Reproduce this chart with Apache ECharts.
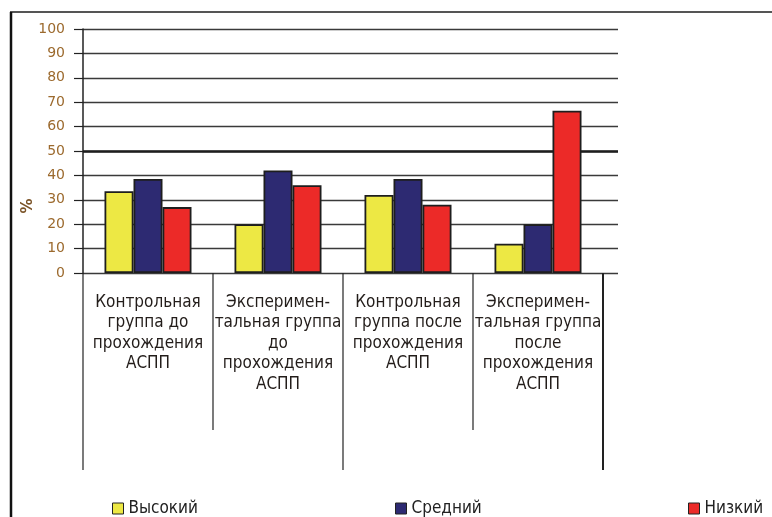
<!DOCTYPE html>
<html>
<head>
<meta charset="utf-8">
<script src="https://cdn.jsdelivr.net/npm/echarts@6/dist/echarts.min.js"></script>
<style>
html,body{margin:0;padding:0;background:#fff;}
#chart{width:772px;height:517px;}
</style>
</head>
<body>
<div id="chart"></div>
<script>
// группы
var categories=[
    "Контрольная\nгруппа до\nпрохождения\nАСПП",
    "Эксперимен-\nтальная группа\nдо\nпрохождения\nАСПП",
    "Контрольная\nгруппа после\nпрохождения\nАСПП",
    "Эксперимен-\nтальная группа\nпосле\nпрохождения\nАСПП"
];
var seriesNames=["Высокий","Средний","Низкий"];
var highVals=[33.5,20,32,12];
var midVals=[38.5,42,38.5,20];
var lowVals=[27,36,28,66.5];
var yTicks=[0,100,10];

var colors=["#ede844","#2d2a72","#ec2a28"];
var narrow='"Liberation Sans Narrow","DejaVu Sans Condensed",sans-serif';

var myChart=echarts.init(document.getElementById("chart"));

function bar(name,data,c){
    return {
        name:name,
        type:"bar",
        xAxisIndex:1,
        yAxisIndex:1,
        z:3,
        data:data,
        barWidth:29,
        barGap:"0%",
        itemStyle:{color:c,borderColor:"#1e1e1e",borderWidth:1.8}
    };
}

var series=[
    bar(seriesNames[0],highVals,colors[0]),
    bar(seriesNames[1],midVals,colors[1]),
    bar(seriesNames[2],lowVals,colors[2])
];
// жирная линия на 50 (под столбцами)
series.push({
    type:"line",xAxisIndex:0,yAxisIndex:0,data:[],z:1,
    markLine:{silent:true,symbol:"none",label:{show:false},z:1,
        lineStyle:{color:"#1e1e1e",width:2.6,type:"solid"},
        data:[{yAxis:50}]}
});

var option={
    animation:false,
    grid:[
        {left:83,top:29,width:535,height:244},
        {left:83,top:29,width:520,height:244}
    ],
    xAxis:[
        {type:"value",gridIndex:0,show:false,min:0,max:1},
        {
            type:"category",gridIndex:1,data:categories,
            axisLine:{show:false},
            axisTick:{show:false},
            axisLabel:{interval:0,margin:19,fontFamily:narrow,fontSize:17,lineHeight:20.5,color:"#231d1a"}
        }
    ],
    yAxis:[
        {
            type:"value",gridIndex:0,min:yTicks[0],max:yTicks[1],interval:yTicks[2],
            axisLine:{show:true,lineStyle:{color:"#222",width:1.5}},
            axisTick:{show:true,length:9,lineStyle:{color:"#222",width:1.2}},
            axisLabel:{margin:18,fontFamily:"DejaVu Sans",fontSize:14,color:"#9c6a2e"},
            splitLine:{show:true,lineStyle:{color:"#3a3a3a",width:1.3}}
        },
        {type:"value",gridIndex:1,min:yTicks[0],max:yTicks[1],show:false}
    ],
    legend:[
        {data:[seriesNames[0]],left:107,top:495},
        {data:[seriesNames[1]],left:390,top:495},
        {data:[seriesNames[2]],left:683,top:495}
    ].map(function(l){
        l.icon="rect";l.itemWidth=11;l.itemHeight=11;
        l.textStyle={fontFamily:narrow,fontSize:17,color:"#222",padding:[0,0,0,0]};
        l.itemStyle={borderColor:"#222",borderWidth:1};
        return l;
    }),
    series:series
};
myChart.setOption(option);

// рамка, подпись оси, разделители групп
var g=[];
g.push({type:"line",shape:{x1:10,y1:12,x2:772,y2:12},style:{stroke:"#555",lineWidth:2}});
g.push({type:"line",shape:{x1:11,y1:12,x2:11,y2:517},style:{stroke:"#111",lineWidth:2.5}});
g.push({type:"text",x:28,y:206,rotation:Math.PI/2,style:{text:"%",font:"bold 15px DejaVu Sans",fill:"#7a5226",align:"center",verticalAlign:"middle"}});
var y0=myChart.convertToPixel({yAxisIndex:1},0);
var c0=myChart.convertToPixel({xAxisIndex:1},0);
var c1=myChart.convertToPixel({xAxisIndex:1},1);
var band=c1-c0;
for(var i=0;i<=categories.length;i++){
    var x=c0-band/2+band*i;
    var longLine=(i%2==0);
    g.push({type:"line",shape:{x1:x,y1:y0,x2:x,y2:y0+(longLine?197:157)},
        style:{stroke:"#222",lineWidth:(i==categories.length?2:1.2)}});
}
myChart.setOption({graphic:g});
</script>
</body>
</html>
